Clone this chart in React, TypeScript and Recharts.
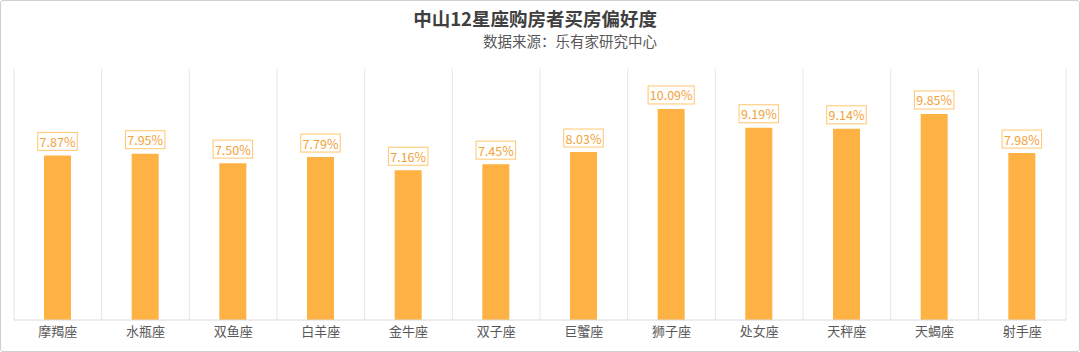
import { BarChart, Bar, XAxis, YAxis, CartesianGrid, LabelList } from "recharts";

const signs = ["摩羯座", "水瓶座", "双鱼座", "白羊座", "金牛座", "双子座", "巨蟹座", "狮子座", "处女座", "天秤座", "天蝎座", "射手座"];
const shares = [7.87, 7.95, 7.5, 7.79, 7.16, 7.45, 8.03, 10.09, 9.19, 9.14, 9.85, 7.98];

const data = signs.map((name, i) => ({ name, value: shares[i] }));

const FONT = '"Noto Sans CJK SC", "Noto Sans", sans-serif';

function ValueTag(props: any) {
  const { x, y, width, value } = props;
  const text = `${Number(value).toFixed(2)}%`;
  const w = text.length * 6.7 + 6;
  const cx = x + width / 2;
  const bottom = y - 5;
  return (
    <g>
      <rect x={cx - w / 2} y={bottom - 18} width={w} height={18} fill="#fff" stroke="#FFC66E" strokeWidth={1} />
      <text x={cx} y={bottom - 9} textAnchor="middle" dominantBaseline="central" fontSize={12.5} fill="#F2A23A" fontFamily={FONT}>
        {text}
      </text>
    </g>
  );
}

export default function App() {
  return (
    <div
      style={{
        position: "absolute",
        left: 0,
        top: 0,
        width: 1080,
        height: 352,
        boxSizing: "border-box",
        border: "1px solid #cfcfcf",
        borderRadius: 3,
        background: "#fff",
        fontFamily: FONT,
      }}
    >
      <svg width={1080} height={60} style={{ position: "absolute", left: -1, top: -1 }}>
        <text x={657} y={26} textAnchor="end" fontSize={18.5} fontWeight="bold" fill="#404040" fontFamily={FONT}>
          中山12星座购房者买房偏好度
        </text>
        <text x={657} y={47} textAnchor="end" fontSize={14.5} fill="#595959" fontFamily={FONT}>
          数据来源：乐有家研究中心
        </text>
      </svg>
      <div style={{ position: "absolute", left: -1, top: -1 }}>
        <BarChart width={1080} height={352} data={data} margin={{ top: 69, right: 14, bottom: 8, left: 14 }}>
          <CartesianGrid
            horizontal={false}
            stroke="#e6e6e6"
            verticalCoordinatesGenerator={({ offset }: any) =>
              Array.from({ length: 13 }, (_, i) => offset.left + (i * offset.width) / 12)
            }
          />
          <XAxis
            dataKey="name"
            height={24}
            tickLine={false}
            tickSize={0}
            tickMargin={7}
            axisLine={{ stroke: "#d9d9d9" }}
            tick={{ fontSize: 13, fill: "#595959", fontFamily: FONT }}
            interval={0}
          />
          <YAxis hide domain={[0, 12]} />
          <Bar dataKey="value" fill="#FFB244" barSize={27} isAnimationActive={false}>
            <LabelList dataKey="value" content={ValueTag} />
          </Bar>
        </BarChart>
      </div>
    </div>
  );
}
